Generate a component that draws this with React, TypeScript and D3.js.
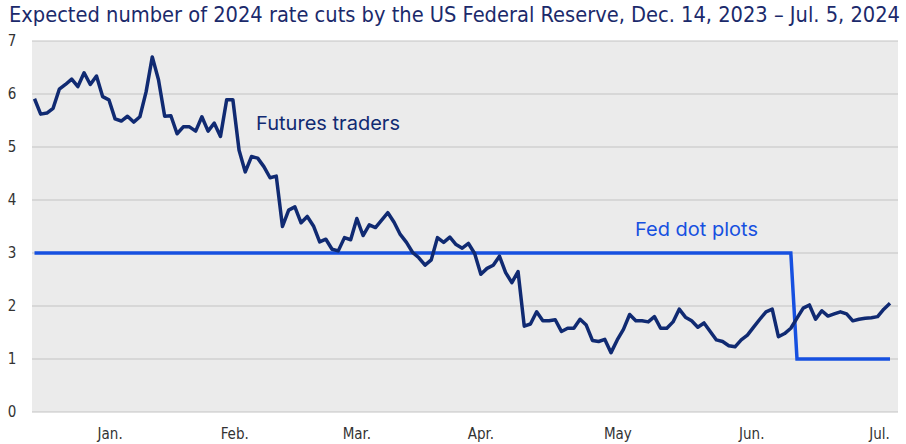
import React from "react";
import * as d3 from "d3";

const futuresValues: number[] = [
  5.91, 5.62, 5.64, 5.73, 6.09, 6.18, 6.28, 6.14, 6.40, 6.18,
  6.34, 5.95, 5.89, 5.53, 5.49, 5.58, 5.47, 5.57, 6.04, 6.70,
  6.27, 5.58, 5.59, 5.25, 5.38, 5.38, 5.30, 5.57, 5.30, 5.45,
  5.20, 5.89, 5.89, 4.94, 4.53, 4.82, 4.79, 4.63, 4.42, 4.45,
  3.50, 3.81, 3.87, 3.57, 3.69, 3.51, 3.21, 3.26, 3.07, 3.04,
  3.29, 3.25, 3.65, 3.33, 3.53, 3.48, 3.62, 3.76, 3.58, 3.35,
  3.20, 3.01, 2.91, 2.77, 2.87, 3.29, 3.20, 3.30, 3.16, 3.09,
  3.18, 2.99, 2.60, 2.71, 2.77, 2.94, 2.63, 2.44, 2.65, 1.62,
  1.66, 1.89, 1.72, 1.72, 1.74, 1.52, 1.58, 1.58, 1.75, 1.64,
  1.35, 1.33, 1.37, 1.12, 1.36, 1.56, 1.84, 1.72, 1.72, 1.70,
  1.80, 1.58, 1.58, 1.70, 1.94, 1.79, 1.72, 1.60, 1.68, 1.52,
  1.36, 1.33, 1.25, 1.23, 1.36, 1.45, 1.60, 1.75, 1.89, 1.94,
  1.42, 1.48, 1.58, 1.77, 1.96, 2.02, 1.75, 1.91, 1.81, 1.85,
  1.89, 1.85, 1.72, 1.75, 1.77, 1.78, 1.80, 1.94, 2.05,
];

const fedIndex: number[] = [0, 122, 123, 138];
const fedValues: number[] = [3, 3, 1, 1];

const monthLabels: string[] = ["Jan.", "Feb.", "Mar.", "Apr.", "May", "Jun.", "Jul."];
const monthTickIndex: number[] = [12.2, 32.3, 52, 72, 94.1, 115.7, 136.3];

const yTicks: number[] = [0, 1, 2, 3, 4, 5, 6, 7];

const title = "Expected number of 2024 rate cuts by the US Federal Reserve, Dec. 14, 2023 \u2013 Jul. 5, 2024";

const W = 906;
const H = 444;
const plotLeft = 32;
const plotRight = 898;

export default function App() {
  const x = d3.scaleLinear().domain([0, futuresValues.length - 1]).range([34.5, 890]);
  const y = d3.scaleLinear().domain([0, 7]).range([412, 41]);

  const futuresLine = d3
    .line<number>()
    .x((_, i) => x(i))
    .y((d) => y(d))(futuresValues) as string;

  const fedLine = d3
    .line<number>()
    .x((_, i) => x(fedIndex[i]))
    .y((d) => y(d))(fedValues) as string;

  const narrow = "'Liberation Sans Narrow', 'DejaVu Sans Condensed', 'Liberation Sans', sans-serif";
  const annot = "Inter, 'Noto Sans', sans-serif";

  return (
    <svg
      width={W}
      height={H}
      style={{ position: "absolute", left: 0, top: 0, background: "#ffffff" }}
    >
      <text
        x={9}
        y={22}
        fontFamily={narrow}
        fontSize={21}
        fill="#1b2a6b"
        textLength={891}
        lengthAdjust="spacingAndGlyphs"
      >
        {title}
      </text>
      <rect x={plotLeft} y={y(7)} width={plotRight - plotLeft} height={y(0) - y(7)} fill="#ebebeb" />
      {yTicks.map((t) => (
        <g key={t}>
          <line x1={plotLeft} x2={plotRight} y1={y(t)} y2={y(t)} stroke="#c4c4c4" strokeWidth={1.2} />
          <text
            x={12}
            y={y(t)}
            dy="0.36em"
            textAnchor="middle"
            fontFamily={narrow}
            fontSize={15}
            fill="#333333"
          >
            {t}
          </text>
        </g>
      ))}
      {monthLabels.map((m, i) => (
        <text
          key={m}
          x={x(monthTickIndex[i])}
          y={439}
          textAnchor="middle"
          fontFamily={narrow}
          fontSize={15}
          fill="#333333"
        >
          {m}
        </text>
      ))}
      <path d={fedLine} fill="none" stroke="#1650e0" strokeWidth={3.5} strokeLinejoin="miter" />
      <path d={futuresLine} fill="none" stroke="#102a72" strokeWidth={3.5} strokeLinejoin="round" />
      <text
        x={256}
        y={130}
        fontFamily={annot}
        fontSize={19}
        fill="#102a72"
        textLength={144}
        lengthAdjust="spacingAndGlyphs"
      >
        Futures traders
      </text>
      <text
        x={635}
        y={236}
        fontFamily={annot}
        fontSize={19}
        fill="#1650e0"
        textLength={123}
        lengthAdjust="spacingAndGlyphs"
      >
        Fed dot plots
      </text>
    </svg>
  );
}
